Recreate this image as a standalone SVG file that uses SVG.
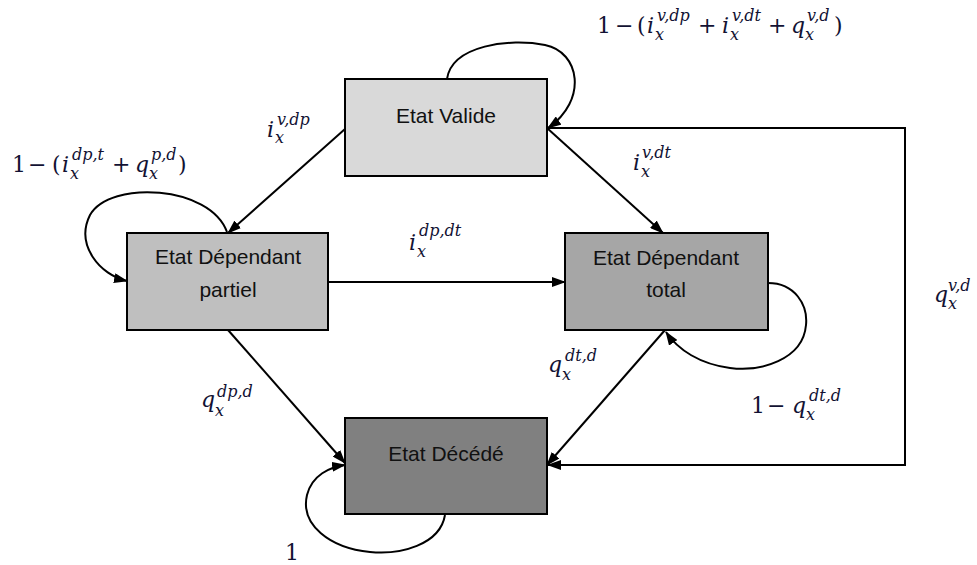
<svg xmlns="http://www.w3.org/2000/svg" width="977" height="565" viewBox="0 0 977 565">
<defs>
<marker id="ah" markerUnits="userSpaceOnUse" markerWidth="14" markerHeight="10" refX="13" refY="5" orient="auto">
<path d="M0,0 L14,5 L0,10 z" fill="#000"/>
</marker>
<style>
.box{stroke:#000;stroke-width:2}
.nt{font-family:"Liberation Sans",Arial,sans-serif;font-size:21px;fill:#111;text-anchor:middle}
.ln{fill:none;stroke:#000;stroke-width:2}
.m{font-family:"DejaVu Serif","Liberation Serif",serif;font-size:22px;fill:#121233}
.i{font-style:italic}
.s{font-style:italic;font-size:16px}
</style>
</defs>
<rect width="977" height="565" fill="#fff"/>
<g id="connectors">
<path class="ln" d="M345,129 L228,233" marker-end="url(#ah)"/>
<path class="ln" d="M547,128 L663,233" marker-end="url(#ah)"/>
<path class="ln" d="M328,282 L565,282" marker-end="url(#ah)"/>
<path class="ln" d="M228,330 L345,463" marker-end="url(#ah)"/>
<path class="ln" d="M665,330 L547,465" marker-end="url(#ah)"/>
<path class="ln" d="M547,128 H905 V465 H548" marker-end="url(#ah)"/>
<path class="ln" d="M447,79 C452,45 510,38 545,45 C580,52 588,100 548,128" marker-end="url(#ah)"/>
<path class="ln" d="M227,232 C210,185 110,180 90,215 C75,245 100,275 127,281" marker-end="url(#ah)"/>
<path class="ln" d="M768,283 C795,283 808,305 806,325 C803,360 760,372 730,368 C700,364 678,350 666,332" marker-end="url(#ah)"/>
<path class="ln" d="M445,515 C440,545 400,555 370,552 C330,548 300,525 307,495 C312,475 330,467 345,465" marker-end="url(#ah)"/>
</g>
<g id="valide">
<rect class="box" x="345" y="79" width="202" height="97" fill="#d9d9d9"/>
<text class="nt" x="446" y="123">Etat Valide</text>
</g>
<g id="partiel">
<rect class="box" x="127" y="233" width="201" height="97" fill="#bfbfbf"/>
<text class="nt" x="228" y="264">Etat Dépendant</text>
<text class="nt" x="228" y="297">partiel</text>
</g>
<g id="total">
<rect class="box" x="565" y="233" width="203" height="97" fill="#a6a6a6"/>
<text class="nt" x="666" y="265">Etat Dépendant</text>
<text class="nt" x="666" y="297">total</text>
</g>
<g id="decede">
<rect class="box" x="345" y="418" width="202" height="96" fill="#808080"/>
<text class="nt" x="446" y="461">Etat Décédé</text>
</g>
<g id="labels">
<text class="m"><tspan x="597" y="33">1</tspan><tspan x="615" y="33">−</tspan><tspan x="637" y="33">(</tspan><tspan class="i" x="647" y="33">i</tspan><tspan class="s" x="655" y="40">x</tspan><tspan class="s" x="657" y="21">v,dp</tspan><tspan x="698" y="33">+</tspan><tspan class="i" x="722" y="33">i</tspan><tspan class="s" x="730" y="40">x</tspan><tspan class="s" x="732" y="21">v,dt</tspan><tspan x="768" y="33">+</tspan><tspan class="i" x="791" y="33">q</tspan><tspan class="s" x="805" y="40">x</tspan><tspan class="s" x="807" y="21">v,d</tspan><tspan x="834" y="33">)</tspan></text>
<text class="m"><tspan x="12" y="172">1</tspan><tspan x="28" y="172">−</tspan><tspan x="52" y="172">(</tspan><tspan class="i" x="62" y="172">i</tspan><tspan class="s" x="70" y="179">x</tspan><tspan class="s" x="72" y="160">dp,t</tspan><tspan x="112" y="172">+</tspan><tspan class="i" x="135" y="172">q</tspan><tspan class="s" x="149" y="179">x</tspan><tspan class="s" x="151" y="160">p,d</tspan><tspan x="178" y="172">)</tspan></text>
<text class="m"><tspan class="i" x="267" y="137">i</tspan><tspan class="s" x="275" y="143">x</tspan><tspan class="s" x="277" y="125">v,dp</tspan></text>
<text class="m"><tspan class="i" x="633" y="170">i</tspan><tspan class="s" x="641" y="177">x</tspan><tspan class="s" x="642" y="158">v,dt</tspan></text>
<text class="m"><tspan class="i" x="409" y="250">i</tspan><tspan class="s" x="417" y="257">x</tspan><tspan class="s" x="419" y="236">dp,dt</tspan></text>
<text class="m"><tspan class="i" x="201" y="407">q</tspan><tspan class="s" x="215" y="416">x</tspan><tspan class="s" x="217" y="397">dp,d</tspan></text>
<text class="m"><tspan class="i" x="548" y="372">q</tspan><tspan class="s" x="562" y="380">x</tspan><tspan class="s" x="565" y="361">dt,d</tspan></text>
<text class="m"><tspan x="751" y="413">1</tspan><tspan x="767" y="413">−</tspan><tspan class="i" x="792" y="413">q</tspan><tspan class="s" x="806" y="420">x</tspan><tspan class="s" x="809" y="401">dt,d</tspan></text>
<text class="m"><tspan class="i" x="934" y="302">q</tspan><tspan class="s" x="948" y="309">x</tspan><tspan class="s" x="948" y="291">v,d</tspan></text>
<text class="m"><tspan x="285" y="560">1</tspan></text>
</g>
</svg>
